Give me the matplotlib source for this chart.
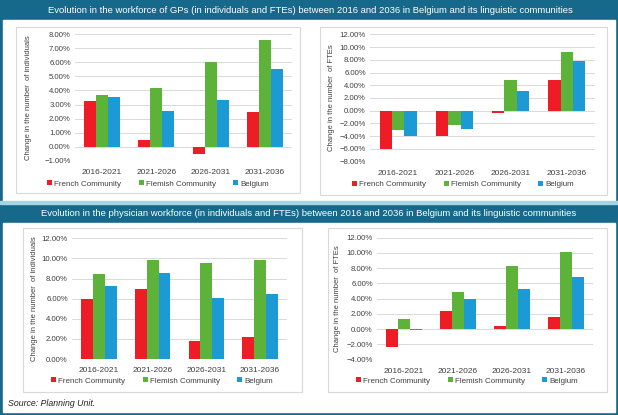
import matplotlib
matplotlib.use('Agg')
import matplotlib.pyplot as plt
import numpy as np
from matplotlib.patches import Rectangle
from matplotlib.ticker import PercentFormatter, MultipleLocator

plt.rcParams['font.family'] = ['Liberation Sans', 'DejaVu Sans']

W, H = 618, 415

periods = ['2016-2021', '2021-2026', '2026-2031', '2031-2036']
series_names = ['French Community', 'Flemish Community', 'Belgium']

# GPs
gp_ind_french = [3.28, 0.45, -0.52, 2.44]
gp_ind_flemish = [3.68, 4.15, 6.06, 7.56]
gp_ind_belgium = [3.52, 2.56, 3.30, 5.51]

gp_fte_french = [-5.97, -3.98, -0.31, 4.82]
gp_fte_flemish = [-3.04, -2.30, 4.87, 9.27]
gp_fte_belgium = [-4.03, -2.93, 3.04, 7.80]

# all physicians
ph_ind_french = [5.99, 6.97, 1.78, 2.14]
ph_ind_flemish = [8.42, 9.83, 9.50, 9.87]
ph_ind_belgium = [7.30, 8.52, 6.02, 6.51]

ph_fte_french = [-2.36, 2.40, 0.48, 1.60]
ph_fte_flemish = [1.40, 4.93, 8.34, 10.10]
ph_fte_belgium = [-0.15, 3.97, 5.30, 6.90]

colors = ['#ee1c25', '#5db33a', '#1b9ad6']
teal = '#17698c'
txt = '#404040'

title_top = 'Evolution in the workforce of GPs (in individuals and FTEs) between 2016 and 2036 in Belgium and its linguistic communities'
title_bottom = 'Evolution in the physician workforce (in individuals and FTEs) between 2016 and 2036 in Belgium and its linguistic communities'


def box(x0, y0, x1, y1):
    # pixel box (top-left origin) -> figure fraction rect
    return [x0 / W, 1 - y1 / H, (x1 - x0) / W, (y1 - y0) / H]


fig = plt.figure(figsize=(W / 100, H / 100), dpi=100, facecolor=teal)

# white content areas, separator and headers
bg = fig.add_axes([0, 0, 1, 1], zorder=-10)
bg.set_xlim(0, W)
bg.set_ylim(H, 0)
bg.axis('off')
bg.add_patch(Rectangle((3, 20), 612, 181, color='white'))
bg.add_patch(Rectangle((0, 201), W, 2.5, color='#a6d3e0'))
bg.add_patch(Rectangle((3, 223), 612, 189, color='white'))
for (x0, y0, x1, y1) in [(16, 27, 300, 193), (320, 27, 607, 195), (23, 228, 302, 392), (328, 228, 607, 392)]:
    bg.add_patch(Rectangle((x0, y0), x1 - x0, y1 - y0, fill=False, ec='#d9d9d9', lw=0.8))

fig.text(310 / W, 1 - 10.5 / H, title_top, color='white', ha='center', va='center', fontsize=6.8)
fig.text(309 / W, 1 - 213 / H, title_bottom, color='white', ha='center', va='center', fontsize=6.8)
fig.text(8 / W, 1 - 403.5 / H, 'Source: Planning Unit.', style='italic', fontsize=6.3,
         ha='left', va='center', color='#222222')


def draw(rect, data, ylim, step, ylabel, ylabel_x, legend_xy):
    ax = fig.add_axes(box(*rect))
    x = np.arange(len(periods))
    w = 0.22
    for i, (vals, c, name) in enumerate(zip(data, colors, series_names)):
        ax.bar(x + (i - 1) * w, vals, width=w, color=c, label=name, zorder=3)
    ax.set_ylim(*ylim)
    ax.set_xlim(-0.5, len(periods) - 0.5)
    ax.yaxis.set_major_locator(MultipleLocator(step))
    ax.yaxis.set_major_formatter(PercentFormatter(decimals=2))
    ax.grid(axis='y', color='#d9d9d9', lw=0.7, zorder=0)
    for s in ax.spines.values():
        s.set_visible(False)
    ax.tick_params(length=0, labelsize=5.6, pad=3, labelcolor=txt)
    ax.set_xticks(x)
    ax.set_xticklabels(periods, fontsize=6)
    ax.tick_params(axis='x', pad=6)
    ax.set_ylabel(ylabel, fontsize=5.5, color=txt)
    ax.yaxis.set_label_coords((ylabel_x - rect[0]) / (rect[2] - rect[0]), 0.5)
    ax.legend(loc='center', bbox_to_anchor=((legend_xy[0] - rect[0]) / (rect[2] - rect[0]),
                                            (rect[3] - legend_xy[1]) / (rect[3] - rect[1])),
              ncol=3, frameon=False, fontsize=5.8, handlelength=0.6, handleheight=0.6,
              handletextpad=0.25, columnspacing=2.2, borderaxespad=0, labelcolor=txt)
    return ax


draw((75, 34.3, 292, 160.7), [gp_ind_french, gp_ind_flemish, gp_ind_belgium], (-1, 8), 1,
     'Change in the number  of individuals', 32, (158, 184))
draw((370, 34.3, 595, 161.7), [gp_fte_french, gp_fte_flemish, gp_fte_belgium], (-8, 12), 2,
     'Change in the number  of FTEs', 335, (463, 184.5))
draw((72, 238.3, 287, 359), [ph_ind_french, ph_ind_flemish, ph_ind_belgium], (0, 12), 2,
     'Change in the number  of individuals', 38, (162, 381))
draw((377, 237.7, 593, 359.7), [ph_fte_french, ph_fte_flemish, ph_fte_belgium], (-4, 12), 2,
     'Change in the number  of FTEs', 341, (467, 381))

fig.savefig('out.png', dpi=100, facecolor=teal)
